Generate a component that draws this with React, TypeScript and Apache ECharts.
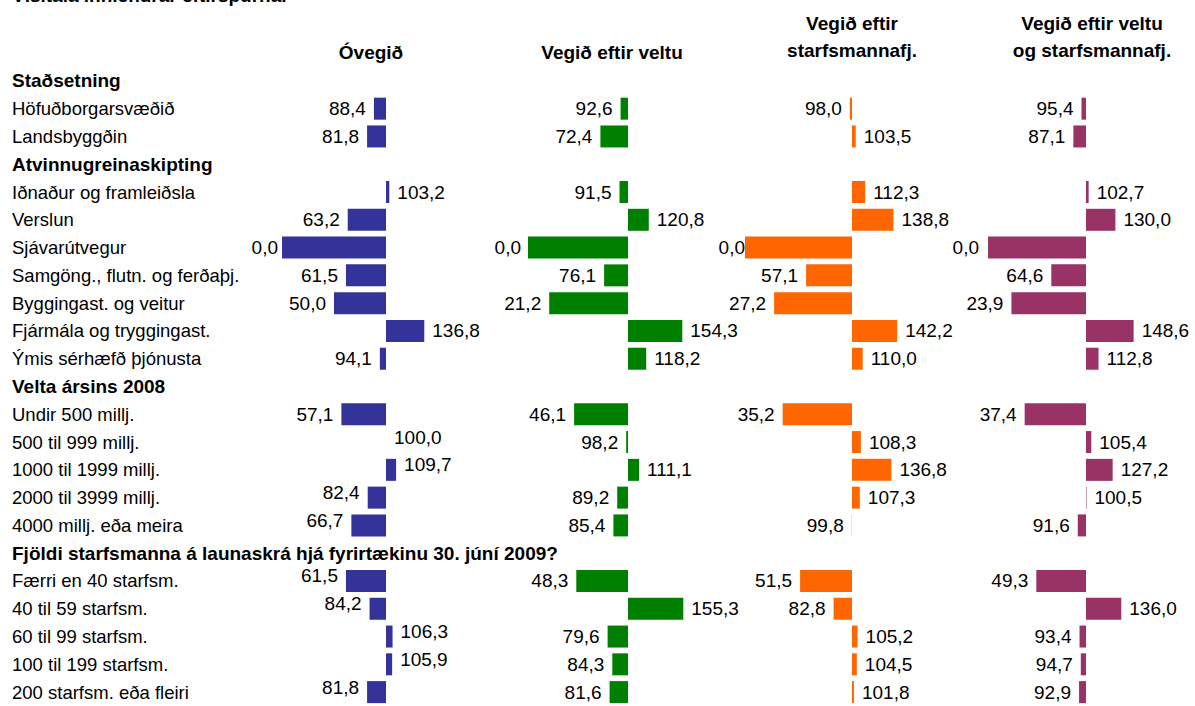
import React, { useEffect, useRef } from "react";
import * as echarts from "echarts";

const categories = [
  "Staðsetning",
  "Höfuðborgarsvæðið",
  "Landsbyggðin",
  "Atvinnugreinaskipting",
  "Iðnaður og framleiðsla",
  "Verslun",
  "Sjávarútvegur",
  "Samgöng., flutn. og ferðaþj.",
  "Byggingast. og veitur",
  "Fjármála og tryggingast.",
  "Ýmis sérhæfð þjónusta",
  "Velta ársins 2008",
  "Undir 500 millj.",
  "500 til 999 millj.",
  "1000 til 1999 millj.",
  "2000 til 3999 millj.",
  "4000 millj. eða meira",
  "Fjöldi starfsmanna á launaskrá hjá fyrirtækinu 30. júní 2009?",
  "Færri en 40 starfsm.",
  "40 til 59 starfsm.",
  "60 til 99 starfsm.",
  "100 til 199 starfsm.",
  "200 starfsm. eða fleiri",
];
const headerRows = [0, 3, 11, 17];

const ovegid = [null, 88.4, 81.8, null, 103.2, 63.2, 0.0, 61.5, 50.0, 136.8, 94.1, null, 57.1, 100.0, 109.7, 82.4, 66.7, null, 61.5, 84.2, 106.3, 105.9, 81.8];
const veltu = [null, 92.6, 72.4, null, 91.5, 120.8, 0.0, 76.1, 21.2, 154.3, 118.2, null, 46.1, 98.2, 111.1, 89.2, 85.4, null, 48.3, 155.3, 79.6, 84.3, 81.6];
const starfsm = [null, 98.0, 103.5, null, 112.3, 138.8, 0.0, 57.1, 27.2, 142.2, 110.0, null, 35.2, 108.3, 136.8, 107.3, 99.8, null, 51.5, 82.8, 105.2, 104.5, 101.8];
const veltuStarfsm = [null, 95.4, 87.1, null, 102.7, 130.0, 0.0, 64.6, 23.9, 148.6, 112.8, null, 37.4, 105.4, 127.2, 100.5, 91.6, null, 49.3, 136.0, 93.4, 94.7, 92.9];

const panelTitles = [
  ["Óvegið"],
  ["Vegið eftir veltu"],
  ["Vegið eftir", "starfsmannafj."],
  ["Vegið eftir veltu", "og starfsmannafj."],
];
const titleText = "Vísitala innlendrar eftirspurnar";
const baseValue = 100;

const FONT = "'Liberation Sans', Arial, sans-serif";

export default function App() {
  const ref = useRef<HTMLDivElement>(null);
  useEffect(() => {
    if (!ref.current) return;
    const chart = echarts.init(ref.current, null, { renderer: "svg" });
    const panels = [
      { vals: ovegid, color: "#333399", cx: 386, s: 1.04, tx: 371, raised: true, zeroDist: 4 },
      { vals: veltu, color: "#008000", cx: 628, s: 1.0, tx: 612, raised: false, zeroDist: 7 },
      { vals: starfsm, color: "#FF6600", cx: 852, s: 1.07, tx: 852, raised: false, zeroDist: 0 },
      { vals: veltuStarfsm, color: "#993366", cx: 1086, s: 0.98, tx: 1092, raised: false, zeroDist: 9 },
    ];
    const top = 67;
    const height = 644;
    const grids: any[] = [];
    const xAxes: any[] = [];
    const yAxes: any[] = [];
    const series: any[] = [];
    panels.forEach((p, i) => {
      const left = p.cx - 100 * p.s;
      grids.push({ left, top, width: 160 * p.s, height });
      xAxes.push({ gridIndex: i, type: "value", min: -100, max: 60, show: false });
      yAxes.push({
        gridIndex: i,
        type: "category",
        data: categories,
        inverse: true,
        axisLine: { show: false },
        axisTick: { show: false },
        splitLine: { show: false },
        axisLabel: i === 0
          ? {
              show: true,
              interval: 0,
              align: "left",
              margin: left - 12,
              fontFamily: FONT,
              fontSize: 18.5,
              color: "#000",
              formatter: (v: string, idx: number) =>
                headerRows.includes(idx) ? `{h|${v}}` : `{n|${v}}`,
              rich: {
                h: { fontWeight: "bold", fontFamily: FONT, fontSize: 19, color: "#000" },
                n: { fontFamily: FONT, fontSize: 18.5, color: "#000" },
              },
            }
          : { show: false },
      });
      series.push({
        type: "bar",
        xAxisIndex: i,
        yAxisIndex: i,
        barWidth: 22,
        itemStyle: { color: p.color },
        data: p.vals.map((v, idx) => {
          if (v == null) return "-";
          const d = +(v - baseValue).toFixed(1);
          const neg = d < 0;
          const raise = p.raised && ((idx >= 13 && idx <= 16) || idx >= 18);
          return {
            value: d,
            label: {
              position: neg ? "left" : "right",
              distance: v === 0 ? p.zeroDist : 8,
              offset: [0, raise ? -5 : 0],
            },
          };
        }),
        label: {
          show: true,
          fontFamily: FONT,
          fontSize: 19,
          color: "#000",
          formatter: (prm: any) => {
            const v = p.vals[prm.dataIndex];
            return v == null ? "" : v.toFixed(1).replace(".", ",");
          },
        },
      });
    });
    const graphics: any[] = [
      {
        type: "text",
        left: 12,
        top: -14,
        style: { text: titleText, font: `bold 19px ${FONT}`, fill: "#000" },
      },
    ];
    panels.forEach((p, i) => {
      const lines = panelTitles[i];
      lines.forEach((t, li) => {
        const y = lines.length === 2 ? (li === 0 ? 23 : 50) : 52;
        graphics.push({
          type: "text",
          x: p.tx,
          y,
          style: {
            text: t,
            font: `bold 19px ${FONT}`,
            fill: "#000",
            align: "center",
            verticalAlign: "middle",
          },
        });
      });
    });
    chart.setOption({
      animation: false,
      grid: grids,
      xAxis: xAxes,
      yAxis: yAxes,
      series,
      graphic: graphics,
    });
    return () => chart.dispose();
  }, []);
  return (
    <div
      ref={ref}
      style={{ position: "fixed", left: 0, top: 0, width: 1195, height: 706, background: "#fff" }}
    />
  );
}
